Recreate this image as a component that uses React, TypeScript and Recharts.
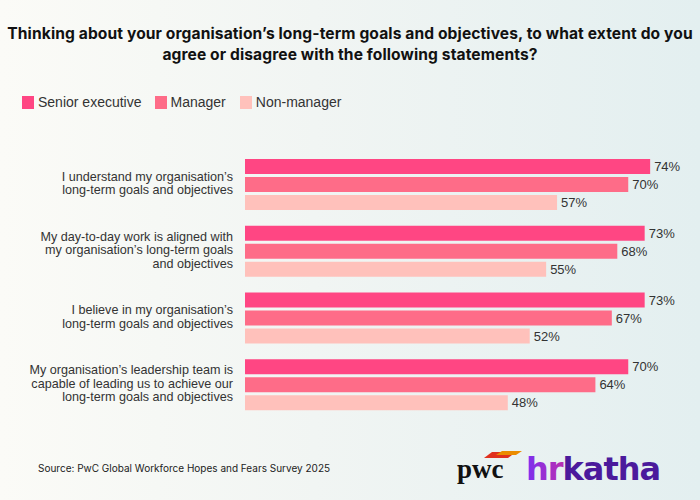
import React from 'react';
import { BarChart, Bar, XAxis, YAxis, LabelList } from 'recharts';

const categories = [
  "I understand my organisation’s\nlong-term goals and objectives",
  "My day-to-day work is aligned with\nmy organisation’s long-term goals\nand objectives",
  "I believe in my organisation’s\nlong-term goals and objectives",
  "My organisation’s leadership team is\ncapable of leading us to achieve our\nlong-term goals and objectives",
];
const seniorExecutive = [74, 73, 73, 70];
const manager = [70, 68, 67, 64];
const nonManager = [57, 55, 52, 48];

const seriesNames = ['Senior executive', 'Manager', 'Non-manager'];
const colors = ['#ff4683', '#fe6c88', '#ffc1bb'];

const data = categories.map((c, i) => ({
  category: c,
  senior: seniorExecutive[i],
  manager: manager[i],
  nonManager: nonManager[i],
}));

const CategoryTick = (props: any) => {
  const { x, y, payload } = props;
  const lines = String(payload.value).split('\n');
  const lh = 13.5;
  return (
    <g>
      {lines.map((l, i) => (
        <text
          key={i}
          x={x}
          y={y - 1.5 + (i - (lines.length - 1) / 2) * lh}
          dy="0.35em"
          textAnchor="end"
          fontFamily="'Liberation Sans', Arial, sans-serif"
          fontSize={12.6}
          fill="#333"
        >
          {l}
        </text>
      ))}
    </g>
  );
};

const pct = (v: any) => `${v}%`;

export default function App() {
  const keys = ['senior', 'manager', 'nonManager'];
  return (
    <div
      style={{
        position: 'fixed',
        left: 0,
        top: 0,
        width: 700,
        height: 500,
        background: 'linear-gradient(90deg, #fbfbf7 0%, #f1f5f3 45%, #e3eff0 100%)',
        overflow: 'hidden',
      }}
    >
      <div
        style={{
          position: 'absolute',
          top: 23,
          left: 0,
          width: 700,
          textAlign: 'center',
          fontFamily: "Inter, 'Liberation Sans', sans-serif",
          fontWeight: 700,
          fontSize: 15.6,
          lineHeight: '21px',
          color: '#111',
          letterSpacing: '0.1px',
          whiteSpace: 'nowrap',
        }}
      >
        Thinking about your organisation’s long-term goals and objectives, to what extent do you
        <br />
        agree or disagree with the following statements?
      </div>
      <div
        style={{
          position: 'absolute',
          top: 94,
          left: 22,
          display: 'flex',
          alignItems: 'center',
          fontFamily: "'Liberation Sans', Arial, sans-serif",
          fontSize: 14,
          color: '#333',
        }}
      >
        {seriesNames.map((n, i) => (
          <div key={n} style={{ display: 'flex', alignItems: 'center', marginRight: i === 0 ? 13 : 14 }}>
            <span style={{ display: 'inline-block', width: 12, height: 13, background: colors[i], marginRight: 4 }} />
            <span>{n}</span>
          </div>
        ))}
      </div>
      <div style={{ position: 'absolute', left: 0, top: 0 }}>
        <BarChart
          width={700}
          height={500}
          data={data}
          layout="vertical"
          margin={{ top: 151, bottom: 82, left: 0, right: 17 }}
          barSize={15}
          barGap={3}
        >
          <XAxis type="number" domain={[0, 80]} hide />
          <YAxis
            type="category"
            dataKey="category"
            width={245}
            axisLine={false}
            tickLine={false}
            tickSize={0}
            tickMargin={12}
            tick={<CategoryTick />}
            interval={0}
          />
          {keys.map((k, i) => (
            <Bar key={k} dataKey={k} name={seriesNames[i]} fill={colors[i]} isAnimationActive={false}>
              <LabelList
                dataKey={k}
                position="right"
                offset={4}
                formatter={pct}
                fill="#333"
                fontSize={13}
                fontFamily="'Liberation Sans', Arial, sans-serif"
              />
            </Bar>
          ))}
        </BarChart>
      </div>
      <div
        style={{
          position: 'absolute',
          left: 38,
          top: 462,
          fontFamily: "Inter, 'Liberation Sans', sans-serif",
          fontSize: 10,
          color: '#222',
        }}
      >
        Source: PwC Global Workforce Hopes and Fears Survey 2025
      </div>
      <svg style={{ position: 'absolute', left: 0, top: 0 }} width={700} height={500}>
        <defs>
          <linearGradient id="hrGrad" x1="0" y1="0" x2="1" y2="0">
            <stop offset="0%" stopColor="#7b2ff0" />
            <stop offset="45%" stopColor="#e0318a" />
            <stop offset="70%" stopColor="#2cc47a" />
            <stop offset="100%" stopColor="#f4c020" />
          </linearGradient>
        </defs>
        <polygon points="484,458 492,452 516,452 508,458" fill="#e0301e" />
        <polygon points="496,455 502,451 522,451 516,455" fill="#eb8c00" />
        <text x={457} y={478} fontFamily="'Liberation Serif', 'DejaVu Serif', serif" fontWeight={700} fontSize={27} fill="#111">
          pwc
        </text>
        <text x={526} y={480} fontFamily="'DejaVu Sans', sans-serif" fontWeight={700} fontSize={32} letterSpacing="-1" fill="#4b1a9c">
          <tspan fill="url(#hrGrad)">hr</tspan>katha
        </text>
      </svg>
    </div>
  );
}
